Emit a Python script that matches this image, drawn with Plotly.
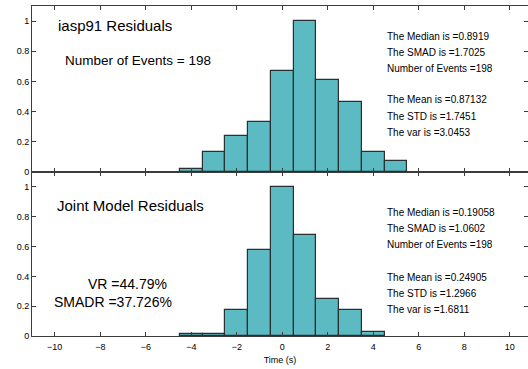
import plotly.graph_objects as go

# ---- data ----
bins_top = [-4, -3, -2, -1, 0, 1, 2, 3, 4, 5]
vals_top = [0.019, 0.13, 0.24, 0.333, 0.667, 1.0, 0.611, 0.463, 0.13, 0.074]
bins_bot = [-4, -3, -2, -1, 0, 1, 2, 3, 4]
vals_bot = [0.015, 0.015, 0.176, 0.574, 1.0, 0.676, 0.25, 0.176, 0.029]

x_ticks = [-10, -8, -6, -4, -2, 0, 2, 4, 6, 8, 10]
y_ticks = [0, 0.2, 0.4, 0.6, 0.8, 1]
y_tick_labels = ["0", "0.2", "0.4", "0.6", "0.8", "1"]

title_top = "iasp91 Residuals"
title_bot = "Joint Model Residuals"
events_text = "Number of Events = 198"
vr_text = "VR =44.79%"
smadr_text = "SMADR =37.726%"
stats_top = ["The Median is =0.8919", "The SMAD is =1.7025", "Number of Events =198",
             "", "The Mean is =0.87132", "The STD is =1.7451", "The var is =3.0453"]
stats_bot = ["The Median is =0.19058", "The SMAD is =1.0602", "Number of Events =198",
             "", "The Mean is =0.24905", "The STD is =1.2966", "The var is =1.6811"]

# ---- layout geometry ----
W, H = 528, 369
ML, MR, MT, MB = 32, 0, 6, 33
PW, PH = W - ML - MR, H - MT - MB
split_px = 172


def px(xp):
    return (xp - ML) / PW


def py(yp):
    return (H - MB - yp) / PH


FILL = "rgb(92,186,194)"
EDGE = "rgb(40,48,50)"
AX = "rgb(60,60,60)"
TXT = "#000"
FONT = "Liberation Sans, Arial, Helvetica, sans-serif"

fig = go.Figure()
fig.add_trace(go.Bar(x=bins_top, y=vals_top, width=1, xaxis="x2", yaxis="y2",
                     marker=dict(color=FILL, line=dict(color=EDGE, width=1.2))))
fig.add_trace(go.Bar(x=bins_bot, y=vals_bot, width=1, xaxis="x", yaxis="y",
                     marker=dict(color=FILL, line=dict(color=EDGE, width=1.2))))

xcommon = dict(range=[-11, 10.8], tickvals=x_ticks, ticks="inside", ticklen=4,
               tickcolor=AX, showline=True, linecolor=AX, linewidth=1,
               mirror="ticks", showgrid=False, zeroline=False)
ycommon = dict(range=[0, 1.1], tickvals=y_ticks, ticktext=y_tick_labels,
               ticks="inside", ticklen=4, tickcolor=AX, showline=True,
               linecolor=AX, linewidth=1, mirror="ticks", showgrid=False,
               zeroline=False, tickfont=dict(size=9, color=TXT, family=FONT))

dom_split = py(split_px)
fig.update_layout(
    width=W, height=H,
    margin=dict(l=ML, r=MR, t=MT, b=MB),
    paper_bgcolor="white", plot_bgcolor="white",
    showlegend=False, bargap=0,
    font=dict(family=FONT, color=TXT),
    xaxis=dict(**xcommon, anchor="y", tickfont=dict(size=9, color=TXT, family=FONT),
               ticklabelstandoff=2,
               title=dict(text="Time (s)", font=dict(size=9, color=TXT), standoff=5)),
    yaxis=dict(**ycommon, domain=[0, dom_split], anchor="x"),
    xaxis2=dict(**xcommon, anchor="y2", showticklabels=False, matches="x"),
    yaxis2=dict(**ycommon, domain=[dom_split, 1], anchor="x2"),
)

ann = []


def add_text(text, xp, yp, size):
    ann.append(dict(text=text, x=px(xp), y=py(yp), xref="paper", yref="paper",
                    xanchor="left", yanchor="middle", showarrow=False,
                    font=dict(size=size, color=TXT, family=FONT)))


add_text(title_top, 56, 26, 15)
add_text(events_text, 63, 60, 13.5)
add_text(title_bot, 55, 205, 15)
add_text(vr_text, 86, 284, 14)
add_text(smadr_text, 52, 302, 14)

for i, line in enumerate(stats_top):
    if line:
        add_text(line, 385, 36 + 16 * i, 10)
for i, line in enumerate(stats_bot):
    if line:
        add_text(line, 385, 212 + 16.3 * i, 10)

fig.update_layout(annotations=ann)
fig.write_html("out.html")
